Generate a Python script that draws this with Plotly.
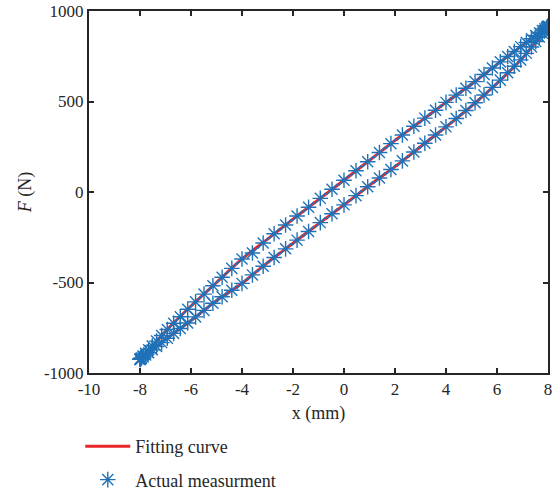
import plotly.graph_objects as go

# Fitting curve (loop: upper branch 8 -> -8, then lower branch -8 -> 8)
fit_x = [8, 7, 6, 5, 4, 3, 2, 1, 0, -1, -2, -3, -4, -5, -6, -7, -7.5, -8,
         -7.5, -7, -6, -5, -4, -3, -2, -1, 0, 1, 2, 3, 4, 5, 6, 7, 7.5, 8]
fit_F = [915, 810, 705, 595, 495, 390, 285, 175, 65, -42, -150, -260, -370, -500, -630, -770, -850, -925,
         -870, -815, -710, -600, -505, -390, -283, -176, -71, 37, 140, 250, 360, 475, 600, 740, 825, 915]

# Actual measurement, upper branch (x decreasing)
up_x = [8.00, 7.99, 7.95, 7.88, 7.78, 7.66, 7.52, 7.35, 7.15, 6.93, 6.68, 6.42, 6.13, 5.82,
        5.49, 5.14, 4.78, 4.40, 4.00, 3.59, 3.17, 2.74, 2.29, 1.84, 1.39, 0.93, 0.47, 0.00,
        -0.47, -0.93, -1.39, -1.84, -2.29, -2.74, -3.17, -3.59, -4.00, -4.40, -4.78, -5.14,
        -5.49, -5.82, -6.13, -6.42, -6.68, -6.93, -7.15, -7.35, -7.52, -7.66, -7.78, -7.88,
        -7.95, -7.99, -8.00]
up_F = [915, 914, 910, 902, 892, 879, 865, 847, 826, 803, 776, 749, 719, 685,
        649, 610, 573, 535, 495, 452, 408, 363, 315, 267, 218, 167, 117, 65,
        15, -35, -84, -133, -182, -231, -282, -337, -370, -422, -471, -518,
        -564, -607, -648, -689, -725, -760, -793, -824, -851, -872, -891, -906,
        -917, -923, -925]

# Actual measurement, lower branch (x increasing)
lo_x = [-8.00, -7.99, -7.95, -7.88, -7.78, -7.66, -7.52, -7.35, -7.15, -6.93, -6.68, -6.42,
        -6.13, -5.82, -5.49, -5.14, -4.78, -4.40, -4.00, -3.59, -3.17, -2.74, -2.29, -1.84,
        -1.39, -0.93, -0.47, 0.00, 0.47, 0.93, 1.39, 1.84, 2.29, 2.74, 3.17, 3.59, 4.00,
        4.40, 4.78, 5.14, 5.49, 5.82, 6.13, 6.42, 6.68, 6.93, 7.15, 7.35, 7.52, 7.66, 7.78,
        7.88, 7.95, 7.99, 8.00]
lo_F = [-925, -924, -920, -912, -901, -888, -872, -854, -832, -808, -781, -754,
        -724, -690, -654, -615, -579, -543, -505, -458, -410, -362, -314, -266,
        -218, -169, -120, -71, -20, 29, 77, 124, 172, 221, 269, 315, 360,
        406, 450, 493, 536, 578, 618, 659, 695, 730, 766, 801, 831, 856, 877,
        894, 906, 913, 915]

x_ticks = [-10, -8, -6, -4, -2, 0, 2, 4, 6, 8]
x_labels = ["-10", "-8", "-6", "-4", "-2", "0", "2", "4", "6", "8"]
y_ticks = [-1000, -500, 0, 500, 1000]
y_labels = ["-1000", "-500", "0", "500", "1000"]

FONT = "Liberation Serif"
AX = "#262626"

fig = go.Figure()
fig.add_trace(go.Scatter(
    x=fit_x, y=fit_F, mode="lines", name="Fitting curve",
    line=dict(color="#e8262a", width=3, shape="spline", smoothing=0.6),
    legendgroup="a"))
fig.add_trace(go.Scatter(
    x=up_x + lo_x, y=up_F + lo_F, mode="markers", name="Actual measurment",
    marker=dict(symbol="asterisk-open", size=13, color="#1f72b8",
                line=dict(color="#1f72b8", width=1.4)),
    legendgroup="b"))

axis_common = dict(
    showline=True, linecolor=AX, linewidth=2, mirror="ticks",
    ticks="inside", ticklen=5, tickwidth=2, tickcolor=AX,
    showgrid=False, zeroline=False,
    tickfont=dict(family=FONT, size=17, color=AX),
    ticklabeloverflow="allow",
)

fig.update_layout(
    width=552, height=496,
    margin=dict(l=89, r=4, t=11, b=123, autoexpand=False),
    paper_bgcolor="white", plot_bgcolor="white",
    font=dict(family=FONT, size=17, color=AX),
    xaxis=dict(range=[-10, 8], tickvals=x_ticks, ticktext=x_labels,
               title=dict(text="x (mm)", font=dict(family=FONT, size=18, color=AX), standoff=8),
               **axis_common),
    yaxis=dict(range=[-1000, 1000], tickvals=y_ticks, ticktext=y_labels,
               title=dict(text="<i>F</i> (N)", font=dict(family=FONT, size=18, color=AX), standoff=8),
               **axis_common),
    legend=dict(x=-0.019, y=-0.152, xanchor="left", yanchor="top",
                font=dict(family=FONT, size=18, color=AX),
                traceorder="grouped", tracegroupgap=7, itemwidth=45,
                bgcolor="rgba(0,0,0,0)"),
    showlegend=True,
)

fig.write_html("out.html")
